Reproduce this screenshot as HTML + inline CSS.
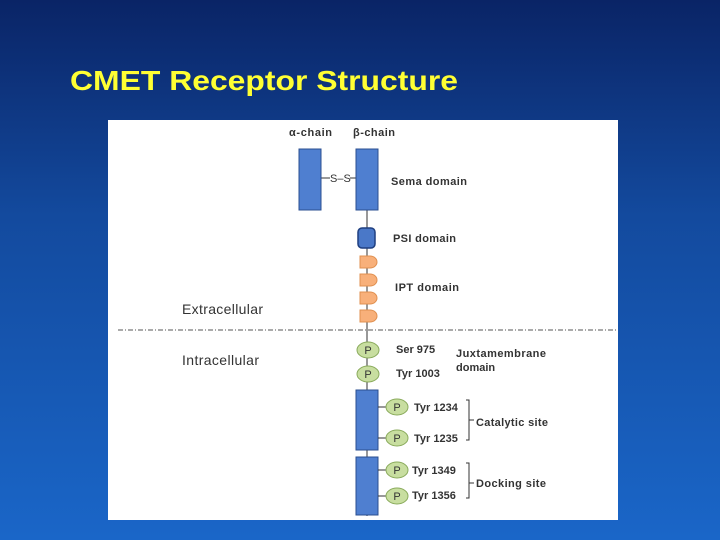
<!DOCTYPE html>
<html><head><style>
body{margin:0;width:720px;height:540px;overflow:hidden;background:linear-gradient(180deg,#0a2466 0%,#134a9e 40%,#1a66c8 100%);font-family:"Liberation Sans",sans-serif;}
</style></head><body>
<svg width="720" height="540" style="position:absolute;left:0;top:0" font-family="Liberation Sans, sans-serif">
<text x="70" y="90" font-size="28" font-weight="bold" fill="#ffff33" textLength="388" lengthAdjust="spacingAndGlyphs">CMET Receptor Structure</text>
<rect x="108" y="120" width="510" height="400" fill="#ffffff"/>
<g font-size="11" font-weight="bold" fill="#333">
<text x="289" y="136" textLength="43">α-chain</text><text x="353" y="136" textLength="42">β-chain</text>
<text x="391" y="185" textLength="76">Sema domain</text>
<text x="393" y="242" textLength="63">PSI domain</text>
<text x="395" y="291" textLength="64">IPT domain</text>
<text x="182" y="314" font-size="14" font-weight="normal" textLength="81">Extracellular</text>
<text x="182" y="365" font-size="14" font-weight="normal" textLength="77">Intracellular</text>
<text x="396" y="353">Ser 975</text><text x="396" y="377">Tyr 1003</text>
<text x="456" y="357" textLength="90">Juxtamembrane</text><text x="456" y="371">domain</text>
<text x="414" y="411">Tyr 1234</text><text x="414" y="442">Tyr 1235</text>
<text x="412" y="474">Tyr 1349</text><text x="412" y="499">Tyr 1356</text>
<text x="476" y="426" textLength="72">Catalytic site</text><text x="476" y="487" textLength="70">Docking site</text>
<text x="330" y="182" font-weight="normal">S–S</text>
</g>
<line x1="321" y1="178" x2="330" y2="178" stroke="#333"/><line x1="350" y1="178" x2="356" y2="178" stroke="#333"/>
<line x1="367" y1="210" x2="367" y2="516" stroke="#333"/>
<rect x="299" y="149" width="22" height="61" fill="#4f7fd0" stroke="#2b4f90"/>
<rect x="356" y="149" width="22" height="61" fill="#4f7fd0" stroke="#2b4f90"/>
<rect x="358" y="228" width="17" height="20" rx="4" fill="#4a78c8" stroke="#1f3f80" stroke-width="1.5"/>
<g fill="#f8b07a" stroke="#e09050">
<path d="M360 256h10a7 6 0 0 1 0 12h-10z"/><path d="M360 274h10a7 6 0 0 1 0 12h-10z"/>
<path d="M360 292h10a7 6 0 0 1 0 12h-10z"/><path d="M360 310h10a7 6 0 0 1 0 12h-10z"/>
</g>
<line x1="118" y1="330" x2="618" y2="330" stroke="#555" stroke-dasharray="5,2,1,2"/>
<rect x="356" y="390" width="22" height="60" fill="#4f7fd0" stroke="#2b4f90"/>
<rect x="356" y="457" width="22" height="58" fill="#4f7fd0" stroke="#2b4f90"/>
<g stroke="#333"><line x1="378" y1="407" x2="386" y2="407"/><line x1="378" y1="438" x2="386" y2="438"/><line x1="378" y1="470" x2="386" y2="470"/><line x1="378" y1="496" x2="386" y2="496"/>
<path d="M466 400h3v40h-3M469 420h5M466 463h3v35h-3M469 483h5" fill="none"/></g>
<g fill="#c8dea0" stroke="#8aab5c">
<ellipse cx="368" cy="350" rx="11" ry="8"/><ellipse cx="368" cy="374" rx="11" ry="8"/>
<ellipse cx="397" cy="407" rx="11" ry="8"/><ellipse cx="397" cy="438" rx="11" ry="8"/>
<ellipse cx="397" cy="470" rx="11" ry="8"/><ellipse cx="397" cy="496" rx="11" ry="8"/>
</g>
<g font-size="11" fill="#333" text-anchor="middle">
<text x="368" y="354">P</text><text x="368" y="378">P</text><text x="397" y="411">P</text><text x="397" y="442">P</text><text x="397" y="474">P</text><text x="397" y="500">P</text>
</g>
</svg>
</body></html>
